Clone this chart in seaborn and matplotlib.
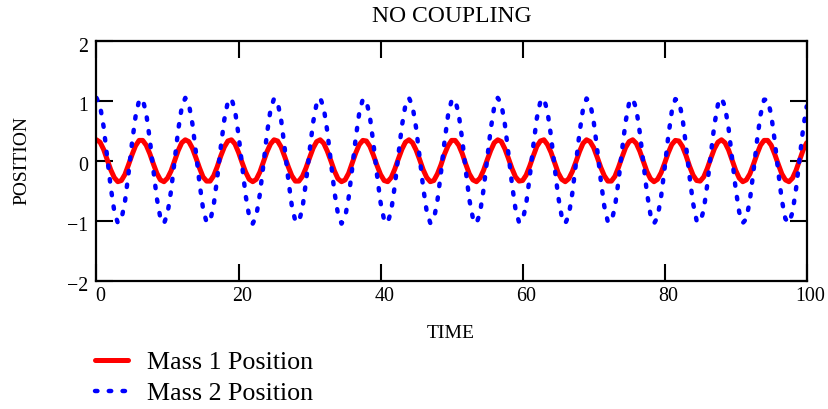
import numpy as np
import pandas as pd
import matplotlib
matplotlib.use("Agg")
import matplotlib.pyplot as plt
import matplotlib.transforms as mtransforms
import seaborn as sns

TIME_START, TIME_END, TIME_STEP = 0.0, 100.0, 0.5

mass1_position = [
    0.35, 0.31, 0.19, 0.02, -0.15, -0.28, -0.35, -0.33, -0.23, -0.07, 0.10, 0.25, 0.34,
    0.34, 0.26, 0.12, -0.05, -0.21, -0.32, -0.35, -0.29, -0.17, 0.00, 0.17, 0.30, 0.35,
    0.32, 0.21, 0.05, -0.12, -0.27, -0.34, -0.34, -0.25, -0.10, 0.08, 0.23, 0.33,
    0.35, 0.28, 0.14, -0.03, -0.19, -0.31, -0.35, -0.31, -0.19, -0.02, 0.15, 0.28, 0.35,
    0.33, 0.23, 0.07, -0.10, -0.25, -0.34, -0.34, -0.26, -0.12, 0.05, 0.21, 0.32,
    0.35, 0.29, 0.16, 0.00, -0.17, -0.30, -0.35, -0.32, -0.21, -0.04, 0.13, 0.27, 0.34,
    0.33, 0.24, 0.09, -0.08, -0.23, -0.33, -0.35, -0.28, -0.14, 0.03, 0.19, 0.31,
    0.35, 0.30, 0.18, 0.02, -0.15, -0.28, -0.35, -0.33, -0.22, -0.07, 0.11, 0.25, 0.34,
    0.34, 0.26, 0.12, -0.06, -0.22, -0.32, -0.35, -0.29, -0.16, 0.01, 0.17, 0.30, 0.35,
    0.32, 0.20, 0.04, -0.13, -0.27, -0.34, -0.33, -0.24, -0.09, 0.08, 0.24, 0.33,
    0.35, 0.27, 0.14, -0.03, -0.20, -0.31, -0.35, -0.30, -0.18, -0.02, 0.15, 0.29, 0.35,
    0.32, 0.22, 0.06, -0.11, -0.25, -0.34, -0.34, -0.26, -0.11, 0.06, 0.22, 0.32,
    0.35, 0.29, 0.16, -0.01, -0.18, -0.30, -0.35, -0.31, -0.20, -0.04, 0.13, 0.27, 0.34,
    0.33, 0.24, 0.09, -0.09, -0.24, -0.33, -0.34, -0.27, -0.13, 0.04, 0.20, 0.31,
    0.35, 0.30, 0.18, 0.01, -0.16, -0.29, -0.35, -0.32, -0.22, -0.06, 0.11, 0.26, 0.34,
    0.34, 0.26, 0.11, -0.06, -0.22, -0.32, -0.35, -0.29, -0.16, 0.01, 0.18, 0.30,
]

mass2_position = [
    1.05, 0.92, 0.57, 0.07, -0.44, -0.84, -1.04, -0.98, -0.69, -0.22, 0.30, 0.74, 1.01,
    1.03, 0.79, 0.36, -0.15, -0.63, -0.96, -1.05, -0.88, -0.50, 0.00, 0.51, 0.89, 1.05,
    0.95, 0.62, 0.14, -0.37, -0.80, -1.03, -1.01, -0.74, -0.29, 0.23, 0.69, 0.99,
    1.04, 0.84, 0.43, -0.08, -0.58, -0.93, -1.05, -0.92, -0.56, -0.07, 0.45, 0.85, 1.04,
    0.98, 0.68, 0.21, -0.31, -0.75, -1.01, -1.02, -0.79, -0.35, 0.16, 0.64, 0.96,
    1.05, 0.88, 0.49, -0.01, -0.52, -0.89, -1.05, -0.95, -0.62, -0.13, 0.38, 0.80, 1.03,
    1.00, 0.73, 0.28, -0.24, -0.70, -0.99, -1.04, -0.83, -0.42, 0.09, 0.58, 0.93,
    1.05, 0.91, 0.55, 0.06, -0.45, -0.85, -1.04, -0.98, -0.67, -0.20, 0.32, 0.76, 1.01,
    1.02, 0.78, 0.35, -0.17, -0.65, -0.96, -1.05, -0.87, -0.48, 0.02, 0.52, 0.90, 1.05,
    0.95, 0.61, 0.12, -0.39, -0.81, -1.03, -1.00, -0.72, -0.27, 0.25, 0.71, 0.99,
    1.04, 0.82, 0.41, -0.10, -0.59, -0.93, -1.05, -0.91, -0.54, -0.05, 0.46, 0.86, 1.04,
    0.97, 0.66, 0.19, -0.32, -0.76, -1.02, -1.02, -0.77, -0.34, 0.18, 0.65, 0.97,
    1.04, 0.87, 0.47, -0.03, -0.53, -0.90, -1.05, -0.94, -0.60, -0.12, 0.40, 0.82, 1.03,
    1.00, 0.72, 0.26, -0.26, -0.71, -1.00, -1.03, -0.82, -0.40, 0.11, 0.60, 0.94,
    1.05, 0.90, 0.54, 0.04, -0.47, -0.86, -1.04, -0.97, -0.66, -0.18, 0.33, 0.77, 1.02,
    1.02, 0.77, 0.33, -0.19, -0.66, -0.97, -1.04, -0.86, -0.47, 0.04, 0.54, 0.91,
]

series_labels = ["Mass 1 Position", "Mass 2 Position"]
x_ticks = [0, 20, 40, 60, 80, 100]
y_ticks = [-2, -1, 0, 1, 2]
title_text = "NO COUPLING"
x_label = "TIME"
y_label = "POSITION"

time = np.arange(TIME_START, TIME_END + TIME_STEP / 2, TIME_STEP)
df = pd.DataFrame({"time": time, "m1": mass1_position, "m2": mass2_position})

# ---- styling ----
sns.set_theme(style="white")
plt.rcParams["font.family"] = ["Liberation Serif", "DejaVu Serif"]
plt.rcParams["axes.unicode_minus"] = True

fig = plt.figure(figsize=(8.29, 4.09), dpi=100)
ax = fig.add_axes([96.5 / 829, 1 - 280.5 / 409, 710.2 / 829, 239.5 / 409])

sns.lineplot(data=df, x="time", y="m1", ax=ax, color="#ff0000", linewidth=3.6,
             sort=False, estimator=None, label=series_labels[0])
sns.lineplot(data=df, x="time", y="m2", ax=ax, color="#0000ff", linewidth=3.2,
             linestyle=(0, (0.55, 2.55)), dash_capstyle="round",
             sort=False, estimator=None, label=series_labels[1])

ax.set_xlim(0, 100)
ax.set_ylim(-2, 2)
ax.set_xticks(x_ticks)
ax.set_yticks(y_ticks)
ax.set_xticklabels([str(v) for v in x_ticks])
ax.set_yticklabels([str(v).replace("-", "\u2212") for v in y_ticks])

for side in ["left", "right", "top", "bottom"]:
    ax.spines[side].set_visible(True)
    ax.spines[side].set_color("black")
    ax.spines[side].set_linewidth(1.6)

ax.tick_params(axis="both", which="major", direction="in", length=12, width=1.5,
               color="black", labelsize=14.4, labelcolor="black",
               top=True, right=True, bottom=True, left=True)
ax.tick_params(axis="x", pad=5)
ax.tick_params(axis="y", pad=6)

# Mathcad-style small shifts of the tick labels
off_x = mtransforms.ScaledTranslation(4 / 100, 0, fig.dpi_scale_trans)
for lab in ax.get_xticklabels():
    lab.set_transform(lab.get_transform() + off_x)
off_y = mtransforms.ScaledTranslation(0, -3.5 / 100, fig.dpi_scale_trans)
for lab in ax.get_yticklabels():
    lab.set_transform(lab.get_transform() + off_y)

ax.set_title(title_text, fontsize=17, color="black", y=1 + (41 - 17) / 239.5,
             va="center", pad=0)
ax.set_xlabel(x_label, fontsize=14, color="black")
ax.xaxis.set_label_coords((451 - 96.5) / 710.2, (280.5 - 334) / 239.5)
ax.xaxis.label.set_va("center")
ax.set_ylabel(y_label, fontsize=14, color="black")
ax.yaxis.set_label_coords((22 - 96.5) / 710.2, 0.5)
ax.yaxis.label.set_va("center")

ax.grid(False)
ax.set_facecolor("white")

leg = ax.legend(loc="upper left", bbox_to_anchor=(95 / 829, 1 - 351 / 409),
                bbox_transform=fig.transFigure, frameon=False, fontsize=18.7,
                handlelength=1.27, handletextpad=0.73, labelspacing=0.28,
                borderpad=0, borderaxespad=0)
for t in leg.get_texts():
    t.set_color("black")

fig.savefig("out.png", dpi=100, facecolor="white")
